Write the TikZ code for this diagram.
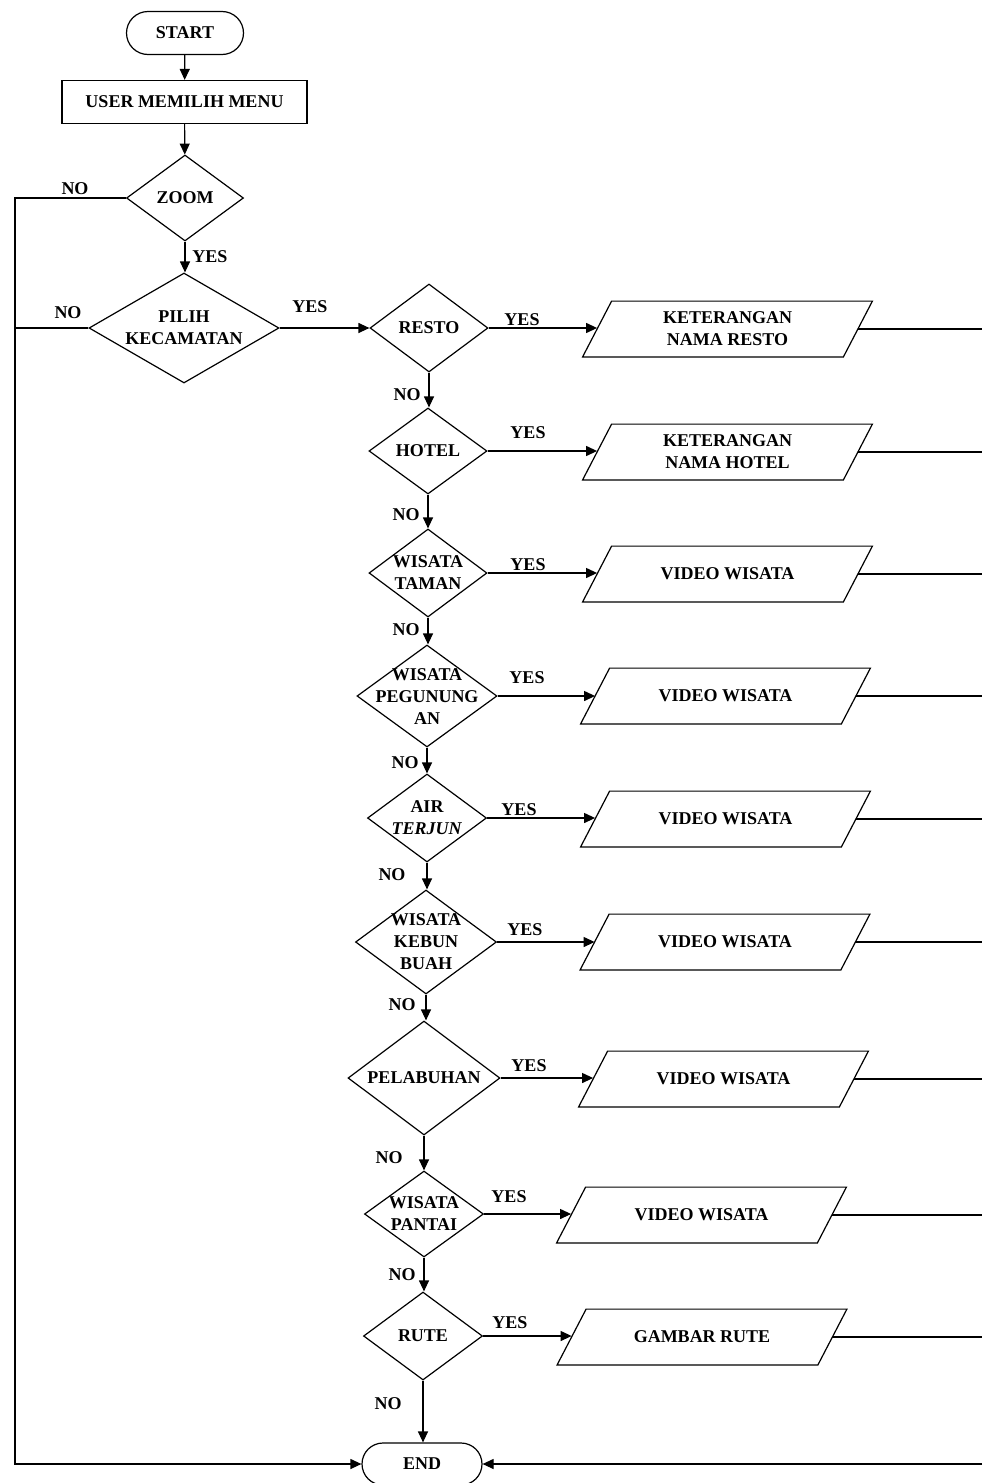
\documentclass[tikz,border=0pt]{standalone}
\usepackage{fontspec}
\setmainfont{Liberation Serif}
\usetikzlibrary{shapes.geometric,shapes.misc,arrows.meta}
\begin{document}
\begin{tikzpicture}[x=0.5pt,y=-0.5pt,
  every node/.style={font=\fontsize{9}{11}\selectfont\bfseries},
  line/.style={draw, line width=0.6pt},
  arr/.style={line, -{Triangle[length=5.5pt,width=5pt]}},
  dec/.style={draw, line width=0.6pt, diamond, inner sep=0pt},
  io/.style={rectangle, inner sep=0pt, align=center, minimum height=27.5pt, minimum width=144.5pt},
  term/.style={draw, line width=0.6pt, rounded rectangle, inner sep=0pt},
  txt/.style={align=center, inner sep=0pt},
  lab/.style={inner sep=0pt}]
\useasboundingbox (0,0) rectangle (982,1483);

% terminals and process
\node[term, minimum width=58.5pt, minimum height=21.5pt] (start) at (185,33) {START};
\node[draw, line width=0.6pt, minimum width=122.5pt, minimum height=21.5pt, inner sep=0pt] (user) at (184.5,102) {USER MEMILIH MENU};
\node[term, minimum width=60pt, minimum height=21pt] (end) at (422,1464) {END};

% decisions
\node[dec, minimum width=58.5pt, minimum height=43pt] (zoom) at (185,198) {};
\node[txt] at (zoom) {ZOOM};
\node[dec, minimum width=95pt, minimum height=55pt] (pilih) at (184,328) {};
\node[txt] at (pilih) {PILIH\\KECAMATAN};
\node[dec, minimum width=59pt, minimum height=44pt] (resto) at (429,328) {};
\node[txt] at (resto) {RESTO};
\node[dec, minimum width=59pt, minimum height=43pt] (hotel) at (428,451) {};
\node[txt] at (hotel) {HOTEL};
\node[dec, minimum width=59pt, minimum height=44pt] (taman) at (428,573) {};
\node[txt] at (taman) {WISATA\\TAMAN};
\node[dec, minimum width=70pt, minimum height=51pt] (pegun) at (427,696) {};
\node[txt] at (427,697) {WISATA\\PEGUNUNG\\AN};
\node[dec, minimum width=59.5pt, minimum height=44pt] (air) at (427,818) {};
\node[txt] at (air) {AIR\\\textit{TERJUN}};
\node[dec, minimum width=70.5pt, minimum height=52pt] (kebun) at (426,942) {};
\node[txt] at (kebun) {WISATA\\KEBUN\\BUAH};
\node[dec, minimum width=76pt, minimum height=57pt] (pelab) at (424,1078) {};
\node[txt] at (pelab) {PELABUHAN};
\node[dec, minimum width=59.5pt, minimum height=43pt] (pantai) at (424,1214) {};
\node[txt] at (pantai) {WISATA\\PANTAI};
\node[dec, minimum width=59.5pt, minimum height=44pt] (rute) at (423,1336) {};
\node[txt] at (rute) {RUTE};

% outputs (parallelograms drawn below)
\node[io] (p1) at (727.5,329) {KETERANGAN\\NAMA RESTO};
\node[io] (p2) at (727.5,452) {KETERANGAN\\NAMA HOTEL};
\node[io] (p3) at (727.5,574) {VIDEO WISATA};
\node[io] (p4) at (725.5,696) {VIDEO WISATA};
\node[io] (p5) at (725.5,819) {VIDEO WISATA};
\node[io] (p6) at (725,942) {VIDEO WISATA};
\node[io] (p7) at (723.5,1079) {VIDEO WISATA};
\node[io] (p8) at (701.5,1215) {VIDEO WISATA};
\node[io] (p9) at (702,1337) {GAMBAR RUTE};
\foreach \p in {p1,p2,p3,p4,p5,p6,p7,p8,p9}
  \draw[line] (\p.south west) -- ([xshift=14.5pt]\p.north west) -- (\p.north east)
     -- ([xshift=-14.5pt]\p.south east) -- cycle;

% helper coordinates
\coordinate (lc) at (15,198);
\coordinate (lb) at (15,1464);
\coordinate (rb) at (982,1464);

% main flow
\draw[arr] (start) -- (user);
\draw[arr] (user) -- (zoom);
\draw[arr] (zoom.south) -- (zoom.south |- pilih.north);
\draw[arr] (pilih.east) -- (resto.west);
\draw[arr] (resto.south) -- (resto.south |- hotel.north);
\draw[arr] (hotel.south) -- (hotel.south |- taman.north);
\draw[arr] (taman.south) -- (taman.south |- pegun.north);
\draw[arr] (pegun.south) -- (pegun.south |- air.north);
\draw[arr] (air.south) -- (air.south |- kebun.north);
\draw[arr] (kebun.south) -- (kebun.south |- pelab.north);
\draw[arr] (pelab.south) -- (pelab.south |- pantai.north);
\draw[arr] (pantai.south) -- (pantai.south |- rute.north);
\draw[arr] (rute.south) -- (rute.south |- end.north);

% left NO path
\draw[arr] (zoom.west) -- (lc) -- (lb) -- (end.west);
\draw[line] (pilih.west) -- (pilih.west -| lc);

% YES branches
\draw[arr] (resto.east) -- ([xshift=7.25pt]resto.east -| p1.west);
\draw[arr] (hotel.east) -- ([xshift=7.25pt]hotel.east -| p2.west);
\draw[arr] (taman.east) -- ([xshift=7.25pt]taman.east -| p3.west);
\draw[arr] (pegun.east) -- ([xshift=7.25pt]pegun.east -| p4.west);
\draw[arr] (air.east) -- ([xshift=7.25pt]air.east -| p5.west);
\draw[arr] (kebun.east) -- ([xshift=7.25pt]kebun.east -| p6.west);
\draw[arr] (pelab.east) -- ([xshift=7.25pt]pelab.east -| p7.west);
\draw[arr] (pantai.east) -- ([xshift=7.25pt]pantai.east -| p8.west);
\draw[arr] (rute.east) -- ([xshift=7.25pt]rute.east -| p9.west);

% right exits
\foreach \p in {p1,p2,p3,p4,p5,p6,p7,p8,p9}
  \draw[line] ([xshift=-7.25pt]\p.east) -- (\p.east -| rb);
\draw[arr] (rb) -- (end.east);

% labels
\node[lab] at (75,189) {NO};
\node[lab] at (210,257) {YES};
\node[lab] at (68,313) {NO};
\node[lab] at (310,307) {YES};
\node[lab] at (522,320) {YES};
\node[lab] at (407,395) {NO};
\node[lab] at (528,433) {YES};
\node[lab] at (406,515) {NO};
\node[lab] at (528,565) {YES};
\node[lab] at (406,630) {NO};
\node[lab] at (527,678) {YES};
\node[lab] at (405,763) {NO};
\node[lab] at (519,810) {YES};
\node[lab] at (392,875) {NO};
\node[lab] at (525,930) {YES};
\node[lab] at (402,1005) {NO};
\node[lab] at (529,1066) {YES};
\node[lab] at (389,1158) {NO};
\node[lab] at (509,1197) {YES};
\node[lab] at (402,1275) {NO};
\node[lab] at (510,1323) {YES};
\node[lab] at (388,1404) {NO};
\end{tikzpicture}
\end{document}
